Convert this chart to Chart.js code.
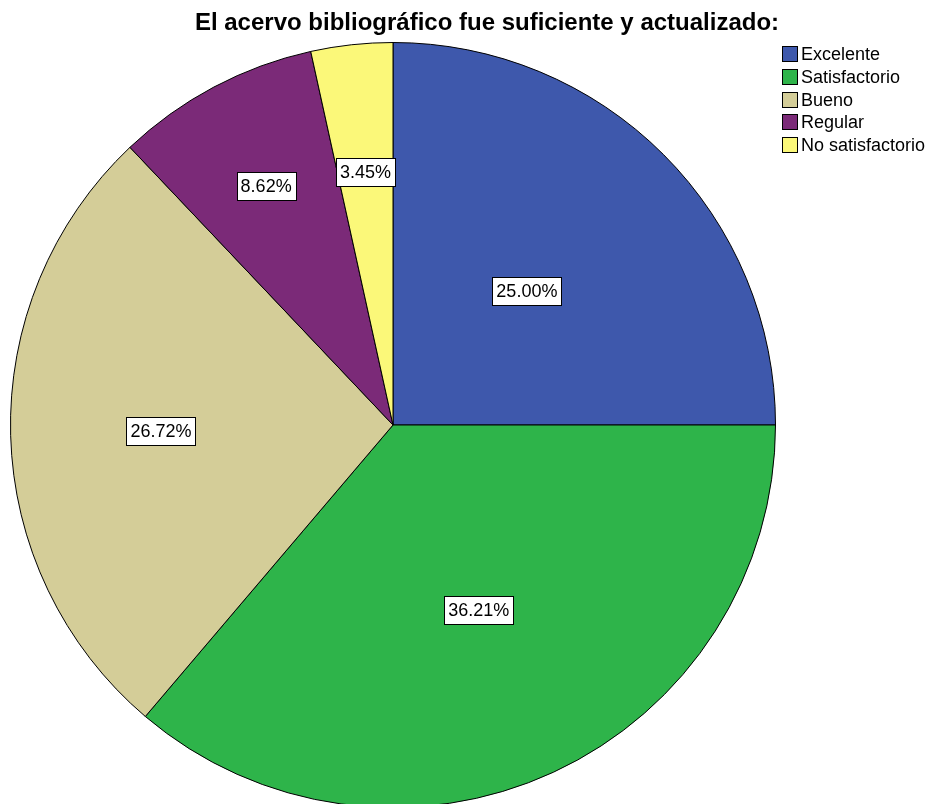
<!DOCTYPE html>
<html>
<head>
<meta charset="UTF-8">
<title>Acervo bibliográfico</title>
<script src="https://cdn.jsdelivr.net/npm/chart.js@4/dist/chart.umd.min.js"></script>
<style>
    body {
        margin: 0;
        padding: 0;
        background: #fff;
        overflow: hidden;
    }
    #grafico {
        display: block;
    }
</style>
</head>
<body>
<canvas id="grafico" width="930" height="808"></canvas>
<script>
const titulo = "El acervo bibliográfico fue suficiente y actualizado:";
const categorias = ["Excelente", "Satisfactorio", "Bueno", "Regular", "No satisfactorio"];
const porcentajes = [25.00, 36.21, 26.72, 8.62, 3.45];
const colores = ["#3e58ac", "#2eb44a", "#d4cd98", "#7b2a78", "#fbf879"];

// distancia de cada etiqueta al centro (fraccion del radio), como en SPSS
const radioEtiqueta = [0.495, 0.534, 0.607, 0.708, 0.665];

const fuente = "'Liberation Sans', Arial, sans-serif";

const extras = {
    id: 'extras',
    afterDraw(chart) {
        const ctx = chart.ctx;
        const arcos = chart.getDatasetMeta(0).data;

        // etiquetas de porcentaje
        ctx.save();
        ctx.font = "18px " + fuente;
        ctx.textAlign = "center";
        ctx.textBaseline = "middle";
        arcos.forEach((arco, i) => {
            const p = arco.getProps(['x', 'y', 'startAngle', 'endAngle', 'outerRadius']);
            const medio = (p.startAngle + p.endAngle) / 2;
            const r = p.outerRadius * radioEtiqueta[i];
            const x = p.x + Math.cos(medio) * r;
            const y = p.y + Math.sin(medio) * r;
            const texto = porcentajes[i].toFixed(2) + "%";
            const w = Math.round(ctx.measureText(texto).width + 8);
            const h = 28;
            const bx = Math.round(x - w / 2) + 0.5;
            const by = Math.round(y - h / 2) + 0.5;
            ctx.fillStyle = "#fff";
            ctx.fillRect(bx, by, w, h);
            ctx.strokeStyle = "#000";
            ctx.lineWidth = 1;
            ctx.strokeRect(bx, by, w, h);
            ctx.fillStyle = "#000";
            ctx.fillText(texto, x, y + 1);
        });
        ctx.restore();

        // titulo
        ctx.save();
        ctx.font = "bold 24px " + fuente;
        ctx.fillStyle = "#000";
        ctx.textAlign = "center";
        ctx.textBaseline = "alphabetic";
        ctx.fillText(titulo, 487, 30);
        ctx.restore();

        // leyenda
        ctx.save();
        ctx.font = "18px " + fuente;
        ctx.textBaseline = "middle";
        categorias.forEach((cat, i) => {
            const y = Math.round(54 + i * 22.8);
            ctx.fillStyle = colores[i];
            ctx.fillRect(782.5, y - 7.5, 15, 15);
            ctx.strokeStyle = "#000";
            ctx.lineWidth = 1;
            ctx.strokeRect(782.5, y - 7.5, 15, 15);
            ctx.fillStyle = "#000";
            ctx.fillText(cat, 801, y + 1);
        });
        ctx.restore();
    }
};

new Chart(document.getElementById('grafico').getContext('2d'), {
    type: 'pie',
    data: {
        labels: categorias,
        datasets: [{
            data: porcentajes,
            backgroundColor: colores,
            borderColor: "#000",
            borderWidth: 1
        }]
    },
    options: {
        responsive: false,
        animation: false,
        layout: {
            padding: { top: 42, left: 10, right: 154, bottom: 0 }
        },
        plugins: {
            legend: { display: false },
            title: { display: false },
            tooltip: { enabled: false }
        }
    },
    plugins: [extras]
});
</script>
</body>
</html>
